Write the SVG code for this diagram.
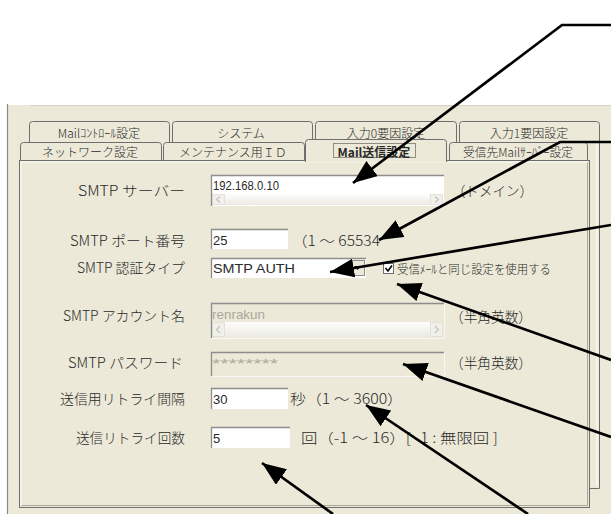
<svg xmlns="http://www.w3.org/2000/svg" width="611" height="514" viewBox="0 0 611 514">
<defs>
<style>
text{font-family:"Noto Sans CJK JP","Liberation Sans",sans-serif;fill:#2a2a2a;font-weight:300}
.lbl{font-size:14px;text-anchor:end;dominant-baseline:central}
.note{font-size:14px;dominant-baseline:central}
.small{font-size:12px;dominant-baseline:central}
.tab{font-size:12px;text-anchor:middle;dominant-baseline:central}
.val{font-family:"Liberation Sans",sans-serif;font-size:13px;dominant-baseline:central;font-weight:normal}
.dis{fill:#aca899}
.tabs{fill:#ECE9D8;stroke:#6e6e6e;stroke-width:1}
.box{fill:#fff}
.dbox{fill:#ECE9D8}
.edge{fill:none;stroke:#8d8d8d;stroke-width:1.3}
.hl{fill:none;stroke:#f7f7f4;stroke-width:1}
.sbtn{fill:#f1f1ec;stroke:#e2e1da;stroke-width:1}
.glyph{fill:none;stroke:#c3c2bb;stroke-width:1.2}
.arrow{fill:none;stroke:#000;stroke-width:2.7;marker-end:url(#ah)}
</style>
<marker id="ah" markerUnits="userSpaceOnUse" markerWidth="26" markerHeight="20" refX="24" refY="9.5" orient="auto"><path d="M0,0 L24,9.5 L0,19 Z" fill="#000"/></marker>
<linearGradient id="sb" x1="0" y1="0" x2="0" y2="1"><stop offset="0" stop-color="#fdfdfb"/><stop offset="1" stop-color="#ebeae4"/></linearGradient>
</defs>

<rect width="611" height="514" fill="#fff"/>
<g id="window">
<rect x="8" y="105" width="603" height="409" fill="#ECE9D8"/>
<path d="M7.5,104 V514" stroke="#8a8a8a" stroke-width="1.2" fill="none"/>
<path d="M30,105.5 H611" stroke="#d6d2c2" stroke-width="1" fill="none"/>
<path d="M599.5,125 V488.5 H590" class="tabs" fill="none"/>
<path d="M597,126 V486" stroke="#ffffff" stroke-width="1" fill="none"/>
</g>

<g id="tabs-back">
<path class="tabs" d="M29.5,142 V124.5 Q29.5,121.5 32.5,121.5 H166.5 Q169.5,121.5 169.5,124.5 V142"/>
<path class="tabs" d="M172.5,142 V124.5 Q172.5,121.5 175.5,121.5 H309.5 Q312.5,121.5 312.5,124.5 V142"/>
<path class="tabs" d="M315.5,142 V124.5 Q315.5,121.5 318.5,121.5 H453.5 Q456.5,121.5 456.5,124.5 V142"/>
<path class="tabs" d="M459.5,142 V124.5 Q459.5,121.5 462.5,121.5 H596.5 Q599.5,121.5 599.5,124.5 V142"/>
<text class="tab" x="99" y="132">Mailｺﾝﾄﾛｰﾙ設定</text>
<text class="tab" x="241" y="132">システム</text>
<text class="tab" x="386" y="132">入力0要因設定</text>
<text class="tab" x="529" y="132">入力1要因設定</text>
</g>

<g id="tabs-front">
<path class="tabs" d="M20.5,161 V145.5 Q20.5,142.5 23.5,142.5 H158.5 Q161.5,142.5 161.5,145.5 V161"/>
<path class="tabs" d="M163.5,161 V145.5 Q163.5,142.5 166.5,142.5 H301.5 Q304.5,142.5 304.5,145.5 V161"/>
<path class="tabs" d="M449.5,161 V145.5 Q449.5,142.5 452.5,142.5 H584.5 Q587.5,142.5 587.5,145.5 V161"/>
<text class="tab" x="90" y="151">ネットワーク設定</text>
<text class="tab" x="233" y="151">メンテナンス用ＩＤ</text>
<text class="tab" x="518" y="151" textLength="110" lengthAdjust="spacingAndGlyphs">受信先Mailｻｰﾊﾞｰ設定</text>
</g>

<g id="panel">
<rect x="19.5" y="160.5" width="570" height="347" fill="#ECE9D8" stroke="#6e6e6e" stroke-width="1"/>
<path d="M587.5,162 V505.5 H21" stroke="#a9a69a" stroke-width="1" fill="none"/>
<path d="M21,506 V162 H588" stroke="#ffffff" stroke-width="0.8" fill="none"/>
</g>

<g id="tab-selected">
<path d="M305.5,162 V142.5 Q305.5,139.5 308.5,139.5 H443.5 Q446.5,139.5 446.5,142.5 V162" fill="#ECE9D8" stroke="#6e6e6e" stroke-width="1"/>
<rect x="333.5" y="143.5" width="82" height="14" fill="none" stroke="#333" stroke-width="1" stroke-dasharray="1,1"/>
<text class="tab" x="374" y="151" font-weight="bold" style="font-weight:bold">Mail送信設定</text>
</g>

<g id="row-server">
<text class="lbl" x="185" y="190" textLength="107" lengthAdjust="spacingAndGlyphs">SMTP サーバー</text>
<rect class="box" x="211" y="175" width="233" height="31"/>
<rect x="212" y="194" width="231" height="11" fill="url(#sb)"/>
<rect class="sbtn" x="212.5" y="194.5" width="12" height="10"/>
<rect class="sbtn" x="430.5" y="194.5" width="12" height="10"/>
<path class="glyph" d="M220,196.5 L216.5,199.5 L220,202.5"/>
<path class="glyph" d="M435,196.5 L438.5,199.5 L435,202.5"/>
<path class="edge" d="M211.5,206 V175.5 H444"/>
<text class="val" x="213" y="185" textLength="66" lengthAdjust="spacingAndGlyphs">192.168.0.10</text>
<text class="note" x="452" y="190" textLength="81" lengthAdjust="spacingAndGlyphs">（ドメイン）</text>
</g>

<g id="row-port">
<text class="lbl" x="185" y="240" textLength="115" lengthAdjust="spacingAndGlyphs">SMTP ポート番号</text>
<rect class="box" x="211" y="229" width="77" height="20"/>
<path class="edge" d="M211.5,249 V229.5 H288"/>
<text class="val" x="213" y="240">25</text>
<text class="note" x="292" y="240" textLength="88" lengthAdjust="spacingAndGlyphs">（1 ～ 65534</text>
</g>

<g id="row-auth">
<text class="lbl" x="185" y="267" textLength="108" lengthAdjust="spacingAndGlyphs">SMTP 認証タイプ</text>
<rect class="box" x="211" y="258" width="155" height="20"/>
<path class="edge" d="M211.5,278 V258.5 H366"/>
<rect x="350.5" y="260.5" width="14" height="15" fill="#ECE9D8" stroke="#8d8d8d" stroke-width="1"/>
<path d="M354,266 H361 L357.5,270 Z" fill="#000"/>
<text class="val" x="213" y="268" font-size="14" textLength="82" lengthAdjust="spacingAndGlyphs">SMTP AUTH</text>
<rect x="383.5" y="263.5" width="10" height="10" fill="#fff" stroke="#6e6e6e" stroke-width="1"/>
<path d="M385.5,268 L388,271 L392,265.5" fill="none" stroke="#000" stroke-width="1.6"/>
<text class="small" x="397" y="268" textLength="154" lengthAdjust="spacingAndGlyphs">受信ﾒｰﾙと同じ設定を使用する</text>
</g>

<g id="row-account">
<text class="lbl" x="185" y="315" textLength="122" lengthAdjust="spacingAndGlyphs">SMTP アカウント名</text>
<rect class="dbox" x="211" y="303" width="233" height="35"/>
<rect x="212" y="322" width="231" height="15" fill="url(#sb)"/>
<rect class="sbtn" x="212.5" y="322.5" width="12" height="14"/>
<rect class="sbtn" x="430.5" y="322.5" width="12" height="14"/>
<path class="glyph" d="M220,326 L216.5,329.5 L220,333"/>
<path class="glyph" d="M435,326 L438.5,329.5 L435,333"/>
<path class="edge" d="M211.5,338 V303.5 H444"/>
<path class="hl" d="M211.5,338.5 H444.5 V303"/>
<text class="val dis" x="212" y="314" textLength="53" lengthAdjust="spacingAndGlyphs">renrakun</text>
<text class="note" x="450" y="316" textLength="82" lengthAdjust="spacingAndGlyphs">（半角英数）</text>
</g>

<g id="row-password">
<text class="lbl" x="183" y="362" textLength="115" lengthAdjust="spacingAndGlyphs">SMTP パスワード</text>
<rect x="211" y="352" width="233" height="24" fill="#ECE9D8"/>
<path class="edge" d="M211.5,376 V352.5 H444"/>
<path class="hl" d="M211.5,376.5 H444.5 V352"/>
<text class="val dis" x="212" y="363" textLength="66" lengthAdjust="spacingAndGlyphs">********</text>
<text class="note" x="450" y="362" textLength="82" lengthAdjust="spacingAndGlyphs">（半角英数）</text>
</g>

<g id="row-interval">
<text class="lbl" x="185" y="398" textLength="125" lengthAdjust="spacingAndGlyphs">送信用リトライ間隔</text>
<rect class="box" x="211" y="388" width="77" height="21"/>
<path class="edge" d="M211.5,409 V388.5 H288"/>
<text class="val" x="213" y="399">30</text>
<text class="note" x="290" y="398" textLength="113" lengthAdjust="spacingAndGlyphs">秒（1 ～ 3600）</text>
</g>

<g id="row-count">
<text class="lbl" x="185" y="437" textLength="109" lengthAdjust="spacingAndGlyphs">送信リトライ回数</text>
<rect class="box" x="211" y="427" width="79" height="21"/>
<path class="edge" d="M211.5,448 V427.5 H290"/>
<text class="val" x="213" y="438">5</text>
<text class="note" x="301" y="437" textLength="197" lengthAdjust="spacingAndGlyphs">回（-1 ～ 16）[ -1 : 無限回 ]</text>
</g>

<g id="connectors">
<polyline class="arrow" points="611,25 562,25 353,183"/>
<polyline class="arrow" points="611,142 560,142 379,240"/>
<line class="arrow" x1="611" y1="225" x2="330" y2="272"/>
<line class="arrow" x1="611" y1="360" x2="397" y2="284"/>
<line class="arrow" x1="611" y1="437" x2="403" y2="364"/>
<line class="arrow" x1="528" y1="514" x2="366" y2="405"/>
<line class="arrow" x1="333" y1="514" x2="262" y2="463"/>
</g>
</svg>
